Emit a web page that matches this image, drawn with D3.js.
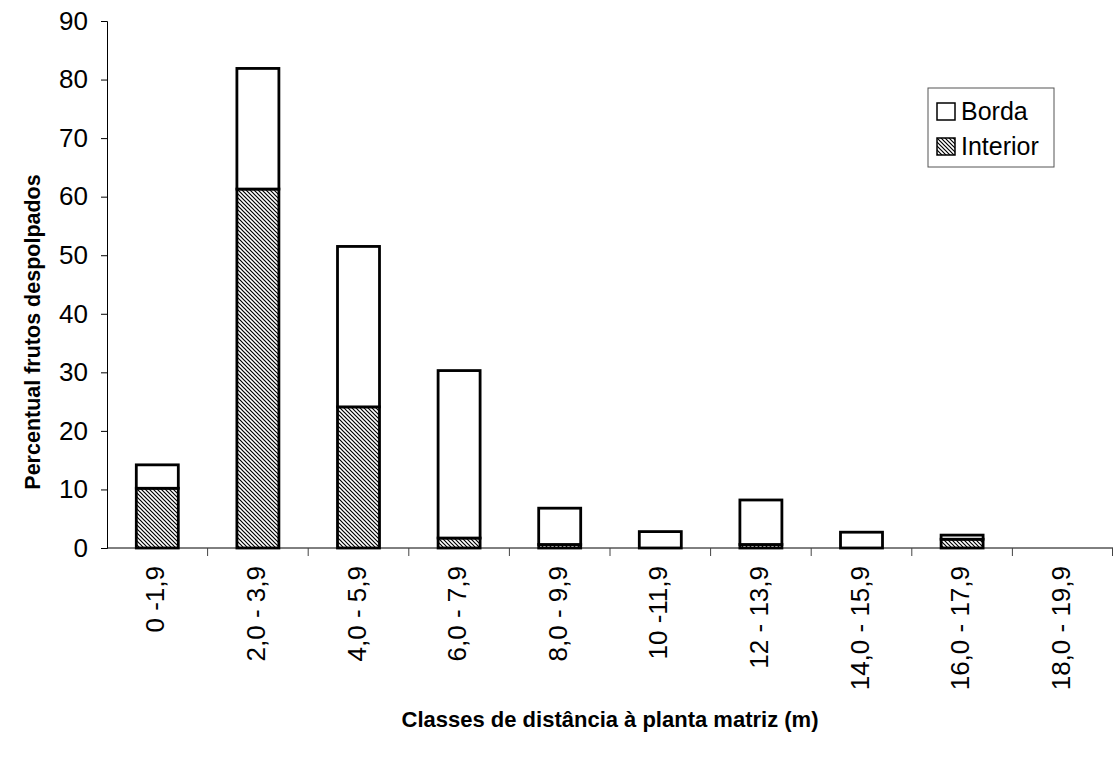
<!DOCTYPE html>
<html>
<head>
<meta charset="utf-8">
<script src="https://cdn.jsdelivr.net/npm/d3@7/dist/d3.min.js"></script>
<style>
  body { margin: 0; background: #fff; }
  svg { display: block; font-family: "Liberation Sans", Arial, sans-serif; }
</style>
</head>
<body>
<svg id="chart" width="1115" height="759"></svg>
<script>
// Distance classes from the parent plant (m)
const categories = ["0 -1,9", "2,0 - 3,9", "4,0 - 5,9", "6,0 - 7,9", "8,0 - 9,9",
                    "10 -11,9", "12 - 13,9", "14,0 - 15,9", "16,0 - 17,9", "18,0 - 19,9"];
// Percent of depulped fruits, by habitat
const interior = [10.2, 61.3, 24.1, 1.7, 0.6, 0, 0.6, 0, 1.5, 0];
const borda    = [4.0, 20.6, 27.4, 28.6, 6.2, 2.8, 7.6, 2.7, 0.7, 0];
const yTicks   = [0, 10, 20, 30, 40, 50, 60, 70, 80, 90];
const seriesNames = ["Interior", "Borda"];

const svg = d3.select("#chart");
const margin = { left: 107, right: 2, top: 21, bottom: 211 };
const W = 1115, H = 759;
const x = d3.scaleBand().domain(categories).range([margin.left, W - margin.right]).paddingInner(0).paddingOuter(0);
const y = d3.scaleLinear().domain([0, 90]).range([H - margin.bottom, margin.top]);

// Diagonal hatch for the interior series
const defs = svg.append("defs");
const pat = defs.append("pattern")
  .attr("id", "hatch").attr("patternUnits", "userSpaceOnUse")
  .attr("width", 4).attr("height", 4);
pat.append("rect").attr("width", 4).attr("height", 4).attr("fill", "#fff");
pat.append("path")
  .attr("d", "M-1,-1 L5,5 M-1,3 L1,5 M3,-1 L5,1")
  .attr("stroke", "#000").attr("stroke-width", 1.2);

const rows = categories.map((c, i) => ({ cat: c, Interior: interior[i], Borda: borda[i] }));
const stacked = d3.stack().keys(seriesNames)(rows);
const fills = { Interior: "url(#hatch)", Borda: "#fff" };
const barW = 42;

// Bars
stacked.forEach(layer => {
  svg.append("g").selectAll("rect")
    .data(layer.filter(d => d[1] - d[0] > 0))
    .join("rect")
    .attr("x", d => x(d.data.cat) + x.bandwidth() / 2 - barW / 2)
    .attr("width", barW)
    .attr("y", d => y(d[1]))
    .attr("height", d => y(d[0]) - y(d[1]))
    .attr("fill", fills[layer.key])
    .attr("stroke", "#000")
    .attr("stroke-width", 2.8);
});

// Y axis
const yAxis = svg.append("g")
  .attr("transform", `translate(${margin.left},0)`)
  .call(d3.axisLeft(y).tickValues(yTicks).tickSize(6).tickPadding(13).tickFormat(d3.format("d")));
yAxis.select(".domain").attr("stroke", "#000").attr("stroke-width", 1);
yAxis.selectAll(".tick line").attr("stroke", "#000");
yAxis.selectAll("text").attr("font-size", 26).attr("fill", "#000")
  .attr("font-family", "Liberation Sans, Arial, sans-serif");

// X axis with ticks on class boundaries
const xAxisG = svg.append("g").attr("transform", `translate(0,${y(0)})`);
xAxisG.append("line")
  .attr("x1", margin.left).attr("x2", W - margin.right)
  .attr("stroke", "#000").attr("stroke-width", 1);
xAxisG.selectAll("line.tick")
  .data(categories.slice(1))
  .join("line").attr("class", "tick")
  .attr("x1", d => x(d)).attr("x2", d => x(d))
  .attr("y1", 0).attr("y2", 8)
  .attr("stroke", "#444").attr("stroke-width", 1);
xAxisG.append("line")
  .attr("x1", W - margin.right - 0.5).attr("x2", W - margin.right - 0.5)
  .attr("y1", 0).attr("y2", 8).attr("stroke", "#444");
xAxisG.selectAll("text")
  .data(categories)
  .join("text")
  .attr("transform", d => `translate(${x(d) + x.bandwidth() / 2 + 7},18) rotate(-90)`)
  .attr("text-anchor", "end")
  .attr("font-size", 26)
  .attr("fill", "#000")
  .text(d => d);

// Axis titles
svg.append("text")
  .attr("transform", `translate(40,332) rotate(-90)`)
  .attr("text-anchor", "middle")
  .attr("font-size", 21.5).attr("font-weight", "bold")
  .text("Percentual frutos despolpados");
svg.append("text")
  .attr("x", (margin.left + W - margin.right) / 2)
  .attr("y", 727)
  .attr("text-anchor", "middle")
  .attr("font-size", 22).attr("font-weight", "bold")
  .text("Classes de distância à planta matriz (m)");

// Legend
const legend = svg.append("g").attr("transform", "translate(928,88)");
legend.append("rect").attr("width", 126).attr("height", 79)
  .attr("fill", "#fff").attr("stroke", "#555").attr("stroke-width", 1);
["Borda", "Interior"].forEach((k, i) => {
  const g = legend.append("g").attr("transform", `translate(9,${15 + i * 35})`);
  g.append("rect").attr("x", 0).attr("y", 0).attr("width", 18).attr("height", 17)
    .attr("fill", fills[k]).attr("stroke", "#000").attr("stroke-width", 1.5);
  g.append("text").attr("x", 24).attr("y", 17).attr("font-size", 25).text(k);
});
</script>
</body>
</html>
